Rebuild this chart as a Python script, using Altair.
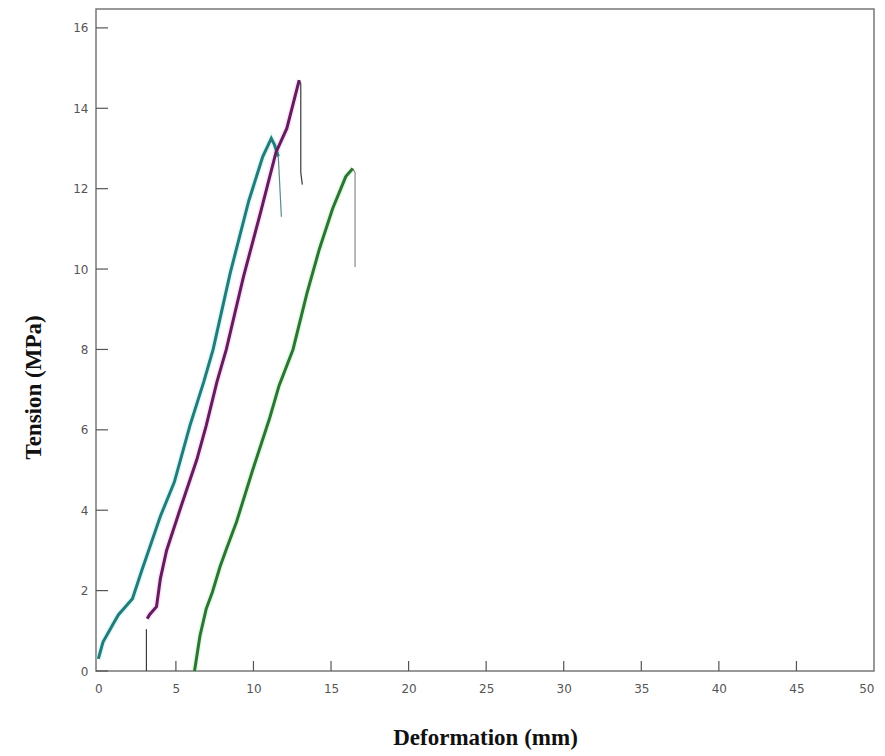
import altair as alt
import pandas as pd

# ---- data ----
teal_x = [0.0, 0.3, 1.0, 1.3, 2.2, 2.8, 3.2, 4.0, 4.9, 5.9, 6.8, 7.4, 8.5, 9.7, 10.6, 11.15, 11.35, 11.6]
teal_y = [0.3, 0.72, 1.2, 1.4, 1.8, 2.5, 2.95, 3.85, 4.7, 6.1, 7.2, 8.0, 9.9, 11.7, 12.8, 13.25, 13.1, 12.8]
teal_tail_x = [11.6, 11.8]
teal_tail_y = [12.8, 11.3]

purple_x = [3.15, 3.3, 3.75, 4.0, 4.4, 5.25, 6.35, 6.95, 7.65, 8.25, 9.35, 10.45, 11.45, 12.15, 12.75, 12.95]
purple_y = [1.3, 1.4, 1.6, 2.3, 3.0, 4.0, 5.26, 6.1, 7.2, 8.0, 9.8, 11.4, 12.9, 13.5, 14.4, 14.7]
purple_head_x = [3.1, 3.1]
purple_head_y = [0.0, 1.04]
purple_tail_x = [12.95, 13.05, 13.05, 13.15]
purple_tail_y = [14.7, 14.6, 12.4, 12.1]

green_x = [6.2, 6.55, 6.95, 7.35, 7.85, 8.25, 8.9, 9.95, 11.05, 11.65, 12.55, 13.45, 14.25, 15.1, 15.95, 16.4]
green_y = [0.0, 0.87, 1.54, 1.96, 2.6, 3.03, 3.7, 5.0, 6.3, 7.1, 8.0, 9.4, 10.5, 11.5, 12.3, 12.5]
green_tail_x = [16.4, 16.55, 16.55]
green_tail_y = [12.5, 12.4, 10.05]

x_ticks = [0, 5, 10, 15, 20, 25, 30, 35, 40, 45, 50]
y_ticks = [0, 2, 4, 6, 8, 10, 12, 14, 16]

series = ["teal", "purple", "green"]
colors = ["#237b7a", "#631c5c", "#2d7534"]
halo = ["#7fe6e6", "#f08ff0", "#8fef8f"]
tail_colors = ["#5a8a8a", "#3a3a3a", "#8a8a8a"]


def frame(name, xs, ys, seg):
    return pd.DataFrame({"series": name, "seg": seg, "order": range(len(xs)), "x": xs, "y": ys})


main_df = pd.concat([
    frame("teal", teal_x, teal_y, "m"),
    frame("purple", purple_x, purple_y, "m"),
    frame("green", green_x, green_y, "m"),
])
tail_df = pd.concat([
    frame("teal", teal_tail_x, teal_tail_y, "t1"),
    frame("purple", purple_head_x, purple_head_y, "t0"),
    frame("purple", purple_tail_x, purple_tail_y, "t1"),
    frame("green", green_tail_x, green_tail_y, "t1"),
])

W, H = 778, 662
xs = alt.Scale(domain=[-0.15, 50], nice=False, zero=False)
ys = alt.Scale(domain=[0, 16.47], nice=False)

axis_x = alt.Axis(values=x_ticks, ticks=False, domain=False, grid=False, labelFont="DejaVu Sans",
                  labelFontSize=12, labelColor="#555", labelPadding=12, title="Deformation (mm)",
                  titleFont="Liberation Serif", titleFontSize=23, titleFontWeight="bold", titleColor="#111",
                  titleY=66, titleBaseline="middle", titleX=W / 2)
axis_y = alt.Axis(values=y_ticks, ticks=False, domain=False, grid=False, labelFont="DejaVu Sans",
                  labelFontSize=12, labelColor="#555", labelPadding=8, title="Tension (MPa)",
                  titleFont="Liberation Serif", titleFontSize=23, titleFontWeight="bold", titleColor="#111",
                  titleX=-63, titleY=378, titleBaseline="middle", titleAngle=-90)

X = lambda f: alt.X(f, scale=xs, axis=axis_x)
Y = lambda f: alt.Y(f, scale=ys, axis=axis_y)

halo_layer = alt.Chart(main_df).mark_line(strokeWidth=6, opacity=0.25).encode(
    x=X("x:Q"), y=Y("y:Q"),
    color=alt.Color("series:N", scale=alt.Scale(domain=series, range=halo), legend=None),
    detail="series:N",
    order="order:Q",
)
main_layer = alt.Chart(main_df).mark_line(strokeWidth=3).encode(
    x=X("x:Q"), y=Y("y:Q"),
    stroke=alt.Stroke("series:N", scale=alt.Scale(domain=series, range=colors), legend=None),
    detail="series:N",
    order="order:Q",
)
tail_layer = alt.Chart(tail_df).mark_line(strokeWidth=1.2).encode(
    x=X("x:Q"), y=Y("y:Q"),
    color=alt.Color("series:N", scale=alt.Scale(domain=series, range=tail_colors), legend=None),
    detail="seg:N",
    order="order:Q",
)

ytick_df = pd.DataFrame({"y": y_ticks})
xtick_df = pd.DataFrame({"x": x_ticks[1:-1]})
ytick_layer = alt.Chart(ytick_df).mark_rule(color="#555", strokeWidth=1.2).encode(
    y=Y("y:Q"), x=alt.value(0), x2=alt.value(12))
xtick_layer = alt.Chart(xtick_df).mark_rule(color="#555", strokeWidth=1.2).encode(
    x=X("x:Q"), y=alt.value(H), y2=alt.value(H - 10))

chart = alt.layer(halo_layer, tail_layer, main_layer, ytick_layer, xtick_layer).resolve_scale(
    color="independent"
).properties(
    width=W, height=H,
    autosize=alt.AutoSizeParams(type="none"),
    padding={"left": 96, "top": 9, "right": 11, "bottom": 85},
    background="white",
).configure_view(stroke="#777", strokeWidth=1.5)

chart.save("out.html", embed_options={"renderer": "svg", "actions": False})
